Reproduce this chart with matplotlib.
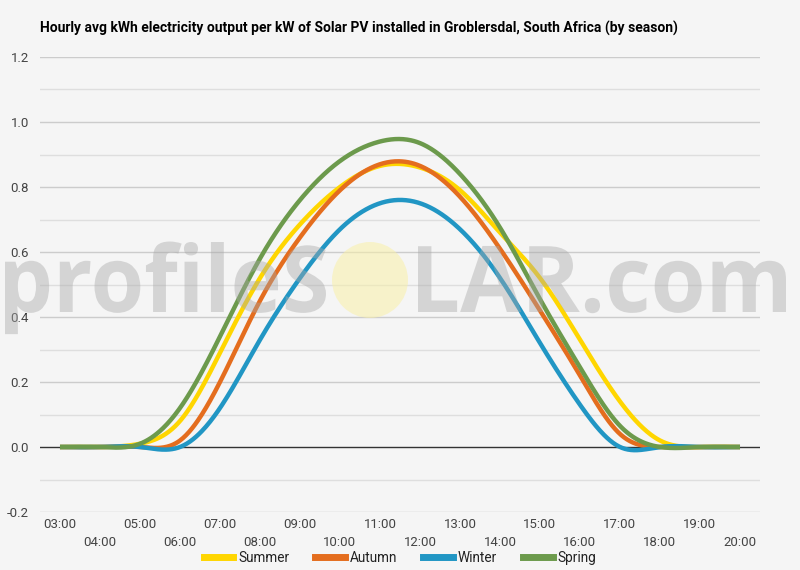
import numpy as np
import matplotlib
matplotlib.use("Agg")
import matplotlib.pyplot as plt
from matplotlib.textpath import TextPath
from matplotlib.patches import PathPatch, Ellipse
from matplotlib.font_manager import FontProperties
from matplotlib.transforms import Affine2D
from matplotlib.lines import Line2D

hours = ['03:00', '04:00', '05:00', '06:00', '07:00', '08:00', '09:00', '10:00', '11:00',
         '12:00', '13:00', '14:00', '15:00', '16:00', '17:00', '18:00', '19:00', '20:00']
summer = [0, 0, 0.01, 0.08, 0.29, 0.52, 0.685, 0.80, 0.865, 0.86, 0.79, 0.66, 0.52, 0.33, 0.14, 0.02, 0, 0]
autumn = [0, 0, 0, 0.02, 0.20, 0.45, 0.645, 0.79, 0.87, 0.865, 0.77, 0.61, 0.42, 0.22, 0.04, 0, 0, 0]
winter = [0, 0, 0, 0, 0.12, 0.33, 0.52, 0.67, 0.75, 0.75, 0.67, 0.52, 0.32, 0.13, 0, 0, 0, 0]
spring = [0, 0, 0.01, 0.12, 0.34, 0.58, 0.76, 0.88, 0.94, 0.935, 0.84, 0.675, 0.455, 0.245, 0.065, 0, 0, 0]
series_names = ['Summer', 'Autumn', 'Winter', 'Spring']
colors = ['#FFD600', '#E46D1E', '#2196C4', '#6C9A4C']
yticks = [-0.2, 0.0, 0.2, 0.4, 0.6, 0.8, 1.0, 1.2]
title = "Hourly avg kWh electricity output per kW of Solar PV installed in Groblersdal, South Africa (by season)"

plt.rcParams['font.family'] = ['Roboto', 'DejaVu Sans']

W, H = 800, 570
fig = plt.figure(figsize=(W / 100, H / 100), dpi=100, facecolor='#f5f5f5')
ax = fig.add_axes([40 / W, 1 - 512 / H, 720 / W, 455 / H])
ax.set_facecolor('#f5f5f5')


def smooth(y, n=40):
    """Natural cubic spline through equally spaced points (rendering only)."""
    y = np.asarray(y, float)
    k = len(y)
    A = np.zeros((k, k))
    b = np.zeros(k)
    A[0, 0] = 1
    A[-1, -1] = 1
    for i in range(1, k - 1):
        A[i, i - 1] = 1
        A[i, i] = 4
        A[i, i + 1] = 1
        b[i] = 6 * (y[i + 1] - 2 * y[i] + y[i - 1])
    M = np.linalg.solve(A, b)
    xs, ys = [], []
    t = np.linspace(0, 1, n, endpoint=False)
    for i in range(k - 1):
        yi = ((1 - t) * y[i] + t * y[i + 1]
              + ((1 - t)**3 - (1 - t)) * M[i] / 6 + (t**3 - t) * M[i + 1] / 6)
        xs.append(i + t)
        ys.append(yi)
    xs.append([k - 1])
    ys.append([y[-1]])
    return np.concatenate(xs), np.concatenate(ys)


# grid
for v in np.arange(-0.2, 1.21, 0.1):
    v = round(v, 2)
    if abs(v) < 1e-9:
        continue
    major = abs(round(v / 0.2) * 0.2 - v) < 1e-6
    ax.axhline(v, color='#cccccc' if major else '#dedede', lw=1, zorder=0)
ax.axhline(0, color='#333333', lw=1, zorder=1)

x = np.arange(len(hours))
for name, data, c in zip(series_names, [summer, autumn, winter, spring], colors):
    sx, sy = smooth(data)
    ax.plot(sx, sy, color=c, lw=3.2, solid_capstyle='butt', zorder=3, label=name)

ax.set_xlim(-0.5, len(hours) - 0.5)
ax.set_ylim(-0.2, 1.2)
for s in ax.spines.values():
    s.set_visible(False)

ax.set_yticks(yticks)
ax.set_yticklabels(['%.1f' % v for v in yticks])
ax.set_xticks(x[::2])
ax.set_xticklabels(hours[::2])
ax.set_xticks(x[1::2], minor=True)
ax.set_xticklabels(hours[1::2], minor=True)
ax.tick_params(axis='both', which='both', length=0, labelsize=9.5, labelcolor='#444444')
ax.tick_params(axis='x', which='major', pad=4)
ax.tick_params(axis='x', which='minor', pad=17)
ax.tick_params(axis='y', pad=8)

fig.text(40 / W, 1 - 28 / H, title, fontsize=10, fontweight='bold', color='#000000',
         ha='left', va='center')

handles = [Line2D([0], [0], color=c, lw=5) for c in colors]
fig.legend(handles, series_names, loc='center', bbox_to_anchor=(0.5, 1 - 558 / H), ncol=4,
           frameon=False, fontsize=9.8, handlelength=2.2, handletextpad=0.35,
           columnspacing=1.9, labelcolor='#222222')

# watermark
sun = Ellipse((370 / W, 1 - 280 / H), 76 / W, 76 / H, transform=fig.transFigure,
              facecolor='#f9f0a8', alpha=0.55, edgecolor='none', zorder=5)
fig.patches.append(sun)

fp = FontProperties(family='Open Sans', weight='bold')


def place(s, x0, x1, baseline, asc_px):
    tp = TextPath((0, 0), s, size=1, prop=fp)
    ext = tp.get_extents()
    lp = TextPath((0, 0), 'l', size=1, prop=fp).get_extents()
    sy = asc_px / lp.y1
    sx = (x1 - x0) / ext.width
    tr = (Affine2D().translate(-ext.x0, 0).scale(sx / W, sy / H)
          .translate(x0 / W, (H - baseline) / H) + fig.transFigure)
    p = PathPatch(tp, transform=tr, facecolor='#a8a8a8', edgecolor='none', alpha=0.42, zorder=6)
    fig.patches.append(p)


place('profileS', 5, 326, 312, 70)
place('LAR.com', 418, 786, 312, 70)

fig.savefig('out.png', dpi=100, facecolor=fig.get_facecolor())
